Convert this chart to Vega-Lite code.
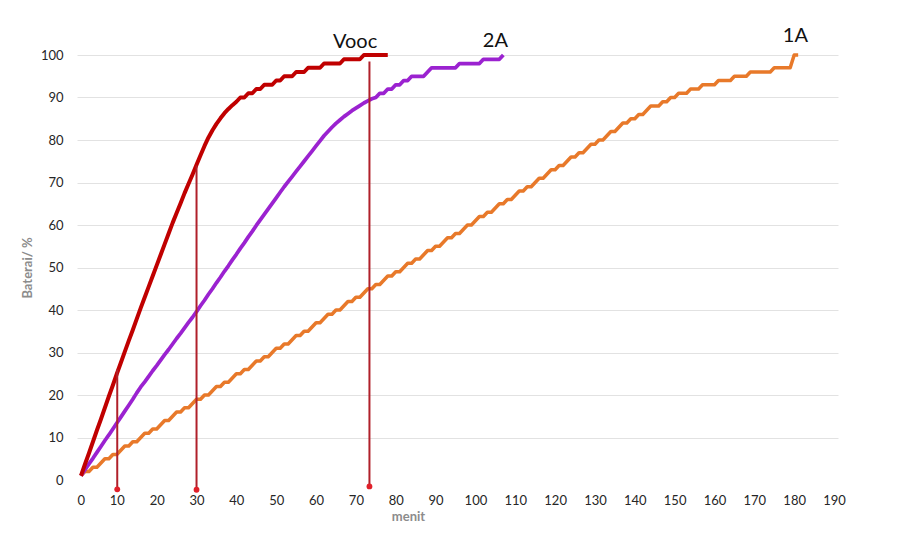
{
  "$schema": "https://vega.github.io/schema/vega-lite/v6.json",
  "width": 761,
  "height": 425,
  "autosize": {"type": "none"},
  "padding": {"left": 77, "top": 55, "right": 62, "bottom": 70},
  "background": "white",
  "config": {"view": {"stroke": null}, "font": "Lato"},
  "datasets": {
    "curves": [
      {"m":1,"V":1,"B":1,"A":1},{"m":2,"V":3.7,"B":2.4,"A":2},{"m":3,"V":6.3,"B":3.8,"A":2},{"m":4,"V":9,"B":5.1,"A":3},{"m":5,"V":11.7,"B":6.5,"A":3},
      {"m":6,"V":14.3,"B":7.9,"A":4},{"m":7,"V":17,"B":9.3,"A":5},{"m":8,"V":19.7,"B":10.6,"A":5},{"m":9,"V":22.3,"B":12,"A":6},{"m":10,"V":25,"B":13.4,"A":6},
      {"m":11,"V":27.6,"B":14.8,"A":7},{"m":12,"V":30.2,"B":16.2,"A":8},{"m":13,"V":32.8,"B":17.6,"A":8},{"m":14,"V":35.3,"B":19,"A":9},{"m":15,"V":37.9,"B":20.5,"A":9},
      {"m":16,"V":40.5,"B":21.9,"A":10},{"m":17,"V":43,"B":23.1,"A":11},{"m":18,"V":45.5,"B":24.4,"A":11},{"m":19,"V":48,"B":25.7,"A":12},{"m":20,"V":50.5,"B":26.9,"A":12},
      {"m":21,"V":53,"B":28.2,"A":13},{"m":22,"V":55.5,"B":29.5,"A":14},{"m":23,"V":58,"B":30.7,"A":14},{"m":24,"V":60.5,"B":32,"A":15},{"m":25,"V":62.8,"B":33.3,"A":16},
      {"m":26,"V":65.1,"B":34.5,"A":16},{"m":27,"V":67.5,"B":35.8,"A":17},{"m":28,"V":69.7,"B":37.1,"A":17},{"m":29,"V":71.9,"B":38.3,"A":18},{"m":30,"V":74.2,"B":39.6,"A":19},
      {"m":31,"V":76.4,"B":41,"A":19},{"m":32,"V":78.6,"B":42.3,"A":20},{"m":33,"V":80.6,"B":43.7,"A":20},{"m":34,"V":82.3,"B":45,"A":21},{"m":35,"V":83.8,"B":46.4,"A":22},
      {"m":36,"V":85.1,"B":47.7,"A":22},{"m":37,"V":86.3,"B":49.1,"A":23},{"m":38,"V":87.3,"B":50.4,"A":23},{"m":39,"V":88.2,"B":51.8,"A":24},{"m":40,"V":89,"B":53.1,"A":25},
      {"m":41,"V":90,"B":54.5,"A":25},{"m":42,"V":90,"B":55.8,"A":26},{"m":43,"V":91,"B":57.2,"A":26},{"m":44,"V":91,"B":58.5,"A":27},{"m":45,"V":92,"B":59.9,"A":28},
      {"m":46,"V":92,"B":61.2,"A":28},{"m":47,"V":93,"B":62.5,"A":29},{"m":48,"V":93,"B":63.8,"A":29},{"m":49,"V":93,"B":65.1,"A":30},{"m":50,"V":94,"B":66.4,"A":31},
      {"m":51,"V":94,"B":67.7,"A":31},{"m":52,"V":95,"B":69,"A":32},{"m":53,"V":95,"B":70.2,"A":32},{"m":54,"V":95,"B":71.4,"A":33},{"m":55,"V":96,"B":72.6,"A":34},
      {"m":56,"V":96,"B":73.8,"A":34},{"m":57,"V":96,"B":75,"A":35},{"m":58,"V":97,"B":76.2,"A":35},{"m":59,"V":97,"B":77.4,"A":36},{"m":60,"V":97,"B":78.6,"A":37},
      {"m":61,"V":97,"B":79.8,"A":37},{"m":62,"V":98,"B":81,"A":38},{"m":63,"V":98,"B":82,"A":39},{"m":64,"V":98,"B":83,"A":39},{"m":65,"V":98,"B":83.9,"A":40},
      {"m":66,"V":98,"B":84.7,"A":40},{"m":67,"V":99,"B":85.5,"A":41},{"m":68,"V":99,"B":86.2,"A":42},{"m":69,"V":99,"B":86.9,"A":42},{"m":70,"V":99,"B":87.5,"A":43},
      {"m":71,"V":99,"B":88.1,"A":43},{"m":72,"V":100,"B":88.7,"A":44},{"m":73,"V":100,"B":89.2,"A":45},{"m":74,"V":100,"B":89.7,"A":45},{"m":75,"V":100,"B":90,"A":46},
      {"m":76,"V":100,"B":91,"A":46},{"m":77,"V":100,"B":91,"A":47},{"m":78,"V":100,"B":92,"A":48},
      {"m":79,"B":92,"A":48},{"m":80,"B":93,"A":49},{"m":81,"B":93,"A":49},{"m":82,"B":94,"A":50},{"m":83,"B":94,"A":51},
      {"m":84,"B":95,"A":51},{"m":85,"B":95,"A":52},{"m":86,"B":95,"A":52},{"m":87,"B":95,"A":53},{"m":88,"B":96,"A":54},
      {"m":89,"B":97,"A":54},{"m":90,"B":97,"A":55},{"m":91,"B":97,"A":55},{"m":92,"B":97,"A":56},{"m":93,"B":97,"A":57},
      {"m":94,"B":97,"A":57},{"m":95,"B":97,"A":58},{"m":96,"B":98,"A":58},{"m":97,"B":98,"A":59},{"m":98,"B":98,"A":60},
      {"m":99,"B":98,"A":60},{"m":100,"B":98,"A":61},{"m":101,"B":98,"A":62},{"m":102,"B":99,"A":62},{"m":103,"B":99,"A":63},
      {"m":104,"B":99,"A":63},{"m":105,"B":99,"A":64},{"m":106,"B":99,"A":65},{"m":107,"B":100,"A":65},
      {"m":108,"A":66},{"m":109,"A":66},{"m":110,"A":67},{"m":111,"A":68},{"m":112,"A":68},{"m":113,"A":69},{"m":114,"A":69},{"m":115,"A":70},
      {"m":116,"A":71},{"m":117,"A":71},{"m":118,"A":72},{"m":119,"A":73},{"m":120,"A":73},{"m":121,"A":74},{"m":122,"A":74},{"m":123,"A":75},
      {"m":124,"A":76},{"m":125,"A":76},{"m":126,"A":77},{"m":127,"A":77},{"m":128,"A":78},{"m":129,"A":79},{"m":130,"A":79},{"m":131,"A":80},
      {"m":132,"A":80},{"m":133,"A":81},{"m":134,"A":82},{"m":135,"A":82},{"m":136,"A":83},{"m":137,"A":84},{"m":138,"A":84},{"m":139,"A":85},
      {"m":140,"A":85},{"m":141,"A":86},{"m":142,"A":86},{"m":143,"A":87},{"m":144,"A":88},{"m":145,"A":88},{"m":146,"A":88},{"m":147,"A":89},
      {"m":148,"A":89},{"m":149,"A":90},{"m":150,"A":90},{"m":151,"A":91},{"m":152,"A":91},{"m":153,"A":91},{"m":154,"A":92},{"m":155,"A":92},
      {"m":156,"A":92},{"m":157,"A":93},{"m":158,"A":93},{"m":159,"A":93},{"m":160,"A":93},{"m":161,"A":94},{"m":162,"A":94},{"m":163,"A":94},
      {"m":164,"A":94},{"m":165,"A":95},{"m":166,"A":95},{"m":167,"A":95},{"m":168,"A":95},{"m":169,"A":96},{"m":170,"A":96},{"m":171,"A":96},
      {"m":172,"A":96},{"m":173,"A":96},{"m":174,"A":96},{"m":175,"A":97},{"m":176,"A":97},{"m":177,"A":97},{"m":178,"A":97},{"m":179,"A":97},
      {"m":180,"A":100},{"m":181,"A":100}
    ],
    "guides": [
      {"m":10.1,"top":26,"bot":-2.2},
      {"m":30,"top":74,"bot":-2.3},
      {"m":73.4,"top":98.5,"bot":-1.5}
    ],
    "labels": [
      {"t":"Vooc","m":69.8,"p":103.1},
      {"t":"2A","m":105,"p":103.2},
      {"t":"1A","m":180.3,"p":104.4}
    ]
  },
  "layer": [
    {
      "data": {"name": "curves"},
      "transform": [
        {"fold": ["A", "B", "V"], "as": ["s", "p"]},
        {"filter": "isValid(datum.p)"}
      ],
      "mark": {"type": "line", "strokeJoin": "round"},
      "encoding": {
        "x": {
          "field": "m", "type": "quantitative", "title": "menit",
          "scale": {"domain": [0, 191], "nice": false, "zero": false},
          "axis": {
            "values": [0,10,20,30,40,50,60,70,80,90,100,110,120,130,140,150,160,170,180,190],
            "grid": false, "domain": false, "ticks": false, "tickSize": 0,
            "labelPadding": 14, "labelFontSize": 13, "labelColor": "#262626", "labelFont": "Lato",
            "titleFontSize": 13, "titleFontWeight": "bold", "titleColor": "#8C8C8C", "titleFont": "Lato",
            "titleX": 331, "titleY": 36, "titleBaseline": "middle", "titleAlign": "center"
          }
        },
        "y": {
          "field": "p", "type": "quantitative", "title": "Baterai/ %",
          "scale": {"domain": [0, 100], "nice": false},
          "axis": {
            "values": [0,10,20,30,40,50,60,70,80,90,100],
            "grid": true, "gridColor": "#E2E2E2", "gridWidth": 1,
            "gridOpacity": {"condition": {"test": "datum.value === 0", "value": 0}, "value": 1},
            "domain": false, "ticks": false, "tickSize": 0,
            "labelPadding": 14, "labelFontSize": 13, "labelColor": "#262626", "labelFont": "Lato",
            "titleFontSize": 13, "titleFontWeight": "bold", "titleColor": "#8C8C8C", "titleFont": "Lato",
            "titleX": -50, "titleY": 212.5, "titleAngle": -90, "titleBaseline": "middle", "titleAlign": "center"
          }
        },
        "color": {
          "field": "s", "type": "nominal",
          "scale": {"domain": ["A", "B", "V"], "range": ["#E8792A", "#9B22D0", "#C00000"]},
          "legend": null
        },
        "strokeWidth": {
          "field": "s", "type": "nominal",
          "scale": {"domain": ["A", "B", "V"], "range": [3.5, 4, 3.5]},
          "legend": null
        }
      }
    },
    {
      "data": {"name": "guides"},
      "mark": {"type": "rule", "color": "#B0202A", "strokeWidth": 2},
      "encoding": {
        "x": {"field": "m", "type": "quantitative", "title": "menit", "scale": {"domain": [0, 191], "nice": false, "zero": false}},
        "y": {"field": "top", "type": "quantitative", "title": "Baterai/ %", "scale": {"domain": [0, 100], "nice": false}},
        "y2": {"field": "bot"}
      }
    },
    {
      "data": {"name": "guides"},
      "mark": {"type": "point", "filled": true, "shape": "circle", "size": 34, "color": "#E0202A", "opacity": 1},
      "encoding": {
        "x": {"field": "m", "type": "quantitative", "title": "menit", "scale": {"domain": [0, 191], "nice": false, "zero": false}},
        "y": {"field": "bot", "type": "quantitative", "title": "Baterai/ %", "scale": {"domain": [0, 100], "nice": false}}
      }
    },
    {
      "data": {"name": "labels"},
      "mark": {"type": "text", "fontSize": 20, "color": "#111111", "baseline": "middle", "align": "center", "font": "Lato"},
      "encoding": {
        "x": {"field": "m", "type": "quantitative", "title": "menit", "scale": {"domain": [0, 191], "nice": false, "zero": false}},
        "y": {"field": "p", "type": "quantitative", "title": "Baterai/ %", "scale": {"domain": [0, 100], "nice": false}},
        "text": {"field": "t"}
      }
    }
  ]
}
